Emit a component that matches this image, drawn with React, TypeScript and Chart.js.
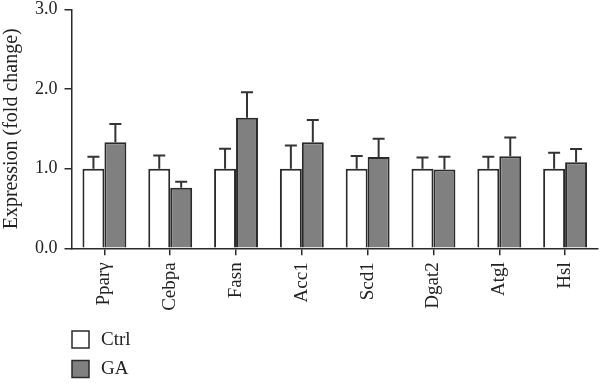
import React, { useEffect, useRef } from 'react';
import Chart from 'chart.js/auto';

const categories = ['Pparγ', 'Cebpa', 'Fasn', 'Acc1', 'Scd1', 'Dgat2', 'Atgl', 'Hsl'];
const ctrlValues = [1, 1, 1, 1, 1, 1, 1, 1];
const ctrlErrors = [0.15, 0.165, 0.25, 0.29, 0.16, 0.14, 0.15, 0.2];
const gaValues = [1.33, 0.76, 1.64, 1.33, 1.145, 0.99, 1.155, 1.08];
const gaErrors = [0.23, 0.075, 0.32, 0.28, 0.23, 0.16, 0.235, 0.165];
const yTickValues = [0, 1, 2, 3];
const seriesNames = ['Ctrl', 'GA'];
const seriesColors = ['#ffffff', '#808080'];

const FONT = "'Liberation Serif', 'Times New Roman', serif";
const AXIS = '#2a2a2a';

const errorBarPlugin = {
  id: 'errorBars',
  afterDatasetsDraw(chart: any) {
    const ctx = chart.ctx;
    const y = chart.scales.y;
    chart.data.datasets.forEach((ds: any, i: number) => {
      const meta = chart.getDatasetMeta(i);
      meta.data.forEach((bar: any, j: number) => {
        const top = y.getPixelForValue(ds.data[j] + ds.errors[j]);
        const x = bar.x;
        ctx.save();
        ctx.strokeStyle = '#333';
        ctx.lineWidth = 2;
        ctx.beginPath();
        ctx.moveTo(x, bar.y);
        ctx.lineTo(x, top);
        ctx.moveTo(x - 6, top);
        ctx.lineTo(x + 6, top);
        ctx.stroke();
        ctx.restore();
      });
    });
  },
};

const legendPlugin = {
  id: 'stackLegend',
  afterDraw(chart: any) {
    const ctx = chart.ctx;
    const x0 = 72;
    const y0 = 331;
    const gap = 29.5;
    chart.data.datasets.forEach((ds: any, i: number) => {
      const y = y0 + i * gap;
      ctx.save();
      ctx.fillStyle = ds.backgroundColor;
      ctx.fillRect(x0, y, 17, 17);
      ctx.strokeStyle = AXIS;
      ctx.lineWidth = 1.5;
      ctx.strokeRect(x0, y, 17, 17);
      ctx.fillStyle = '#222';
      ctx.font = `19px ${FONT}`;
      ctx.textBaseline = 'middle';
      ctx.textAlign = 'left';
      ctx.fillText(ds.label, x0 + 29, y + 9);
      ctx.restore();
    });
  },
};

export default function App() {
  const ref = useRef<HTMLCanvasElement>(null);
  useEffect(() => {
    if (!ref.current) return;
    const chart = new Chart(ref.current, {
      type: 'bar',
      data: {
        labels: categories,
        datasets: [
          { label: seriesNames[0], data: ctrlValues, errors: ctrlErrors, backgroundColor: seriesColors[0], borderColor: AXIS, borderWidth: 2 } as any,
          { label: seriesNames[1], data: gaValues, errors: gaErrors, backgroundColor: seriesColors[1], borderColor: AXIS, borderWidth: 2 } as any,
        ],
      },
      options: {
        animation: false,
        responsive: false,
        devicePixelRatio: 1,
        layout: { padding: { top: 0, right: 2, bottom: 0, left: 0 } },
        datasets: { bar: { categoryPercentage: 0.667, barPercentage: 1 } },
        plugins: { legend: { display: false }, tooltip: { enabled: false } },
        scales: {
          x: {
            afterFit: (s: any) => { s.height = 134.7; },
            grid: { offset: false, drawOnChartArea: false, drawTicks: true, tickLength: 7, color: AXIS, lineWidth: 1.5 },
            border: { display: true, color: AXIS, width: 1.5 },
            ticks: { color: '#222', font: { family: FONT, size: 19 }, maxRotation: 90, minRotation: 90, padding: 7 },
          },
          y: {
            min: 0,
            max: 3,
            afterFit: (s: any) => { s.width = 71.5; s.paddingTop = 9.3; s.paddingBottom = 9; },
            afterBuildTicks: (axis: any) => { axis.ticks = yTickValues.map((v) => ({ value: v })); },
            grid: { drawOnChartArea: false, drawTicks: true, tickLength: 7, color: AXIS, lineWidth: 1.5 },
            border: { display: true, color: AXIS, width: 1.5 },
            ticks: { color: '#222', font: { family: FONT, size: 18, lineHeight: 1.0 }, padding: 7, callback: (v: any) => Number(v).toFixed(1) },
            title: { display: true, text: 'Expression (fold change)', color: '#222', font: { family: FONT, size: 20 }, padding: { top: 0, bottom: 0 } },
          },
        },
      },
      plugins: [errorBarPlugin, legendPlugin],
    });
    return () => chart.destroy();
  }, []);
  return (
    <div style={{ position: 'fixed', left: 0, top: 0, width: 600, height: 383, background: '#fff' }}>
      <canvas ref={ref} width={600} height={383} />
    </div>
  );
}
